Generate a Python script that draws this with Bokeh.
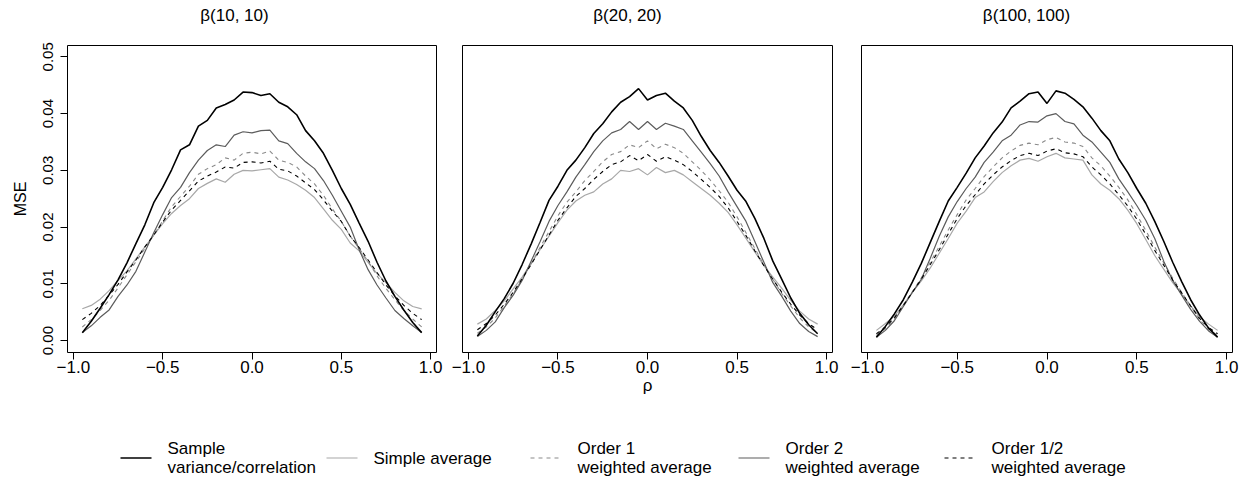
from bokeh.plotting import figure
from bokeh.layouts import row, column
from bokeh.models import Range1d, FixedTicker
from bokeh.embed import file_html
from bokeh.resources import INLINE
from bokeh.core.properties import value

# ---------------- data ----------------
rho = [-0.95, -0.90, -0.85, -0.80, -0.75, -0.70, -0.65, -0.60, -0.55, -0.50,
       -0.45, -0.40, -0.35, -0.30, -0.25, -0.20, -0.15, -0.10, -0.05, 0.00,
       0.05, 0.10, 0.15, 0.20, 0.25, 0.30, 0.35, 0.40, 0.45, 0.50,
       0.55, 0.60, 0.65, 0.70, 0.75, 0.80, 0.85, 0.90, 0.95]

panel_titles = ["β(10, 10)", "β(20, 20)", "β(100, 100)"]

# beta(10,10)
sample_10 = [0.0014, 0.0034, 0.0057, 0.0081, 0.0107, 0.0137, 0.0171, 0.0204, 0.0243, 0.0270,
             0.0301, 0.0336, 0.0345, 0.0378, 0.0388, 0.0410, 0.0416, 0.0424, 0.0438, 0.0437,
             0.0432, 0.0435, 0.0420, 0.0412, 0.0398, 0.0370, 0.0352, 0.0330, 0.0300, 0.0268,
             0.0240, 0.0207, 0.0175, 0.0138, 0.0105, 0.0078, 0.0054, 0.0032, 0.0014]
simple_10 = [0.0056, 0.0062, 0.0073, 0.0088, 0.0106, 0.0123, 0.0144, 0.0165, 0.0186, 0.0206,
             0.0224, 0.0238, 0.0250, 0.0268, 0.0277, 0.0285, 0.0279, 0.0293, 0.0300, 0.0299,
             0.0301, 0.0303, 0.0288, 0.0283, 0.0275, 0.0265, 0.0252, 0.0232, 0.0212, 0.0196,
             0.0172, 0.0158, 0.0138, 0.0118, 0.0102, 0.0085, 0.0070, 0.0060, 0.0056]
order1_10 = [0.0024, 0.0037, 0.0053, 0.0071, 0.0093, 0.0116, 0.0139, 0.0162, 0.0186, 0.0211,
             0.0236, 0.0254, 0.0272, 0.0293, 0.0303, 0.0310, 0.0322, 0.0318, 0.0330, 0.0332,
             0.0329, 0.0334, 0.0318, 0.0314, 0.0306, 0.0290, 0.0276, 0.0256, 0.0232, 0.0210,
             0.0184, 0.0162, 0.0140, 0.0114, 0.0092, 0.0072, 0.0053, 0.0038, 0.0024]
order2_10 = [0.0014, 0.0026, 0.0041, 0.0054, 0.0078, 0.0098, 0.0122, 0.0156, 0.0190, 0.0222,
             0.0252, 0.0270, 0.0296, 0.0318, 0.0335, 0.0345, 0.0342, 0.0362, 0.0368, 0.0366,
             0.0370, 0.0371, 0.0352, 0.0347, 0.0330, 0.0315, 0.0303, 0.0282, 0.0256, 0.0228,
             0.0200, 0.0160, 0.0125, 0.0098, 0.0075, 0.0053, 0.0039, 0.0026, 0.0014]
orderhalf_10 = [0.0037, 0.0048, 0.0062, 0.0080, 0.0099, 0.0121, 0.0142, 0.0165, 0.0186, 0.0209,
                0.0230, 0.0247, 0.0264, 0.0281, 0.0290, 0.0297, 0.0306, 0.0304, 0.0314, 0.0315,
                0.0313, 0.0316, 0.0302, 0.0299, 0.0290, 0.0278, 0.0266, 0.0248, 0.0228, 0.0210,
                0.0184, 0.0164, 0.0142, 0.0120, 0.0098, 0.0079, 0.0062, 0.0048, 0.0037]

# beta(20,20)
sample_20 = [0.0008, 0.0027, 0.0051, 0.0074, 0.0101, 0.0134, 0.0170, 0.0208, 0.0247, 0.0272,
             0.0300, 0.0318, 0.0340, 0.0365, 0.0382, 0.0403, 0.0420, 0.0430, 0.0444, 0.0424,
             0.0432, 0.0436, 0.0422, 0.0410, 0.0388, 0.0360, 0.0335, 0.0314, 0.0290, 0.0265,
             0.0245, 0.0215, 0.0180, 0.0140, 0.0108, 0.0075, 0.0048, 0.0028, 0.0012]
simple_20 = [0.0029, 0.0038, 0.0053, 0.0070, 0.0091, 0.0112, 0.0136, 0.0160, 0.0184, 0.0208,
             0.0230, 0.0246, 0.0256, 0.0262, 0.0276, 0.0285, 0.0300, 0.0298, 0.0303, 0.0292,
             0.0305, 0.0296, 0.0300, 0.0292, 0.0280, 0.0268, 0.0256, 0.0242, 0.0226, 0.0204,
             0.0180, 0.0156, 0.0132, 0.0112, 0.0092, 0.0071, 0.0052, 0.0038, 0.0029]
order1_20 = [0.0013, 0.0024, 0.0040, 0.0061, 0.0083, 0.0108, 0.0135, 0.0164, 0.0192, 0.0220,
             0.0244, 0.0262, 0.0282, 0.0298, 0.0315, 0.0328, 0.0333, 0.0345, 0.0340, 0.0352,
             0.0338, 0.0346, 0.0340, 0.0330, 0.0315, 0.0300, 0.0283, 0.0264, 0.0244, 0.0218,
             0.0190, 0.0162, 0.0134, 0.0108, 0.0083, 0.0061, 0.0040, 0.0024, 0.0013]
order2_20 = [0.0007, 0.0018, 0.0033, 0.0058, 0.0080, 0.0106, 0.0140, 0.0174, 0.0210, 0.0238,
             0.0262, 0.0288, 0.0310, 0.0333, 0.0352, 0.0366, 0.0372, 0.0386, 0.0372, 0.0386,
             0.0372, 0.0383, 0.0378, 0.0372, 0.0352, 0.0332, 0.0312, 0.0290, 0.0262, 0.0236,
             0.0210, 0.0174, 0.0138, 0.0102, 0.0078, 0.0052, 0.0030, 0.0016, 0.0007]
orderhalf_20 = [0.0019, 0.0030, 0.0045, 0.0064, 0.0085, 0.0109, 0.0134, 0.0160, 0.0186, 0.0212,
                0.0234, 0.0254, 0.0268, 0.0284, 0.0298, 0.0310, 0.0315, 0.0326, 0.0317, 0.0328,
                0.0316, 0.0324, 0.0318, 0.0310, 0.0298, 0.0284, 0.0270, 0.0254, 0.0234, 0.0210,
                0.0185, 0.0158, 0.0132, 0.0108, 0.0085, 0.0064, 0.0045, 0.0030, 0.0019]

# beta(100,100)
sample_100 = [0.0006, 0.0025, 0.0047, 0.0072, 0.0103, 0.0136, 0.0173, 0.0210, 0.0246, 0.0270,
              0.0295, 0.0322, 0.0343, 0.0366, 0.0385, 0.0410, 0.0422, 0.0435, 0.0438, 0.0418,
              0.0440, 0.0436, 0.0425, 0.0412, 0.0392, 0.0370, 0.0352, 0.0320, 0.0296, 0.0268,
              0.0242, 0.0210, 0.0175, 0.0138, 0.0104, 0.0072, 0.0045, 0.0022, 0.0006]
simple_100 = [0.0018, 0.0030, 0.0043, 0.0063, 0.0085, 0.0105, 0.0128, 0.0154, 0.0180, 0.0207,
              0.0228, 0.0252, 0.0262, 0.0280, 0.0296, 0.0308, 0.0318, 0.0321, 0.0316, 0.0324,
              0.0330, 0.0322, 0.0320, 0.0318, 0.0292, 0.0276, 0.0265, 0.0250, 0.0230, 0.0206,
              0.0178, 0.0150, 0.0126, 0.0102, 0.0082, 0.0061, 0.0042, 0.0029, 0.0018]
order1_100 = [0.0009, 0.0021, 0.0038, 0.0062, 0.0086, 0.0110, 0.0138, 0.0166, 0.0195, 0.0222,
              0.0248, 0.0268, 0.0289, 0.0306, 0.0322, 0.0334, 0.0344, 0.0348, 0.0345, 0.0354,
              0.0358, 0.0350, 0.0348, 0.0342, 0.0322, 0.0308, 0.0290, 0.0270, 0.0248, 0.0222,
              0.0194, 0.0165, 0.0137, 0.0110, 0.0085, 0.0061, 0.0037, 0.0020, 0.0009]
order2_100 = [0.0006, 0.0018, 0.0035, 0.0060, 0.0085, 0.0108, 0.0145, 0.0184, 0.0218, 0.0245,
              0.0268, 0.0288, 0.0314, 0.0332, 0.0352, 0.0362, 0.0380, 0.0386, 0.0385, 0.0396,
              0.0400, 0.0386, 0.0382, 0.0362, 0.0350, 0.0332, 0.0314, 0.0285, 0.0262, 0.0238,
              0.0212, 0.0180, 0.0140, 0.0106, 0.0080, 0.0055, 0.0034, 0.0017, 0.0006]
orderhalf_100 = [0.0012, 0.0024, 0.0040, 0.0062, 0.0085, 0.0108, 0.0134, 0.0160, 0.0188, 0.0215,
                 0.0238, 0.0257, 0.0276, 0.0292, 0.0306, 0.0317, 0.0326, 0.0330, 0.0326, 0.0334,
                 0.0338, 0.0331, 0.0329, 0.0324, 0.0306, 0.0292, 0.0276, 0.0257, 0.0237, 0.0214,
                 0.0187, 0.0159, 0.0133, 0.0107, 0.0084, 0.0061, 0.0039, 0.0023, 0.0012]

x_ticks = [-1.0, -0.5, 0.0, 0.5, 1.0]
x_tick_labels = ["\u22121.0", "\u22120.5", "0.0", "0.5", "1.0"]
y_ticks = [0.00, 0.01, 0.02, 0.03, 0.04, 0.05]
y_tick_labels = ["0.00", "0.01", "0.02", "0.03", "0.04", "0.05"]

legend_line1 = ["Sample", "Simple average", "Order 1", "Order 2", "Order 1/2"]
legend_line2 = ["variance/correlation", "", "weighted average", " weighted average", "weighted average"]

# ---------------- styles ----------------
FONT = "Liberation Sans"
STYLE = {
    "sample": dict(color="#000000", width=1.6, dash="solid"),
    "simple": dict(color="#a8a8a8", width=1.2, dash="solid"),
    "order1": dict(color="#8a8a8a", width=1.1, dash="4 4"),
    "order2": dict(color="#5c5c5c", width=1.2, dash="solid"),
    "orderhalf": dict(color="#000000", width=1.1, dash="4 4"),
}
legend_keys = ["sample", "simple", "order1", "order2", "orderhalf"]

panels_data = [
    dict(simple=simple_10, order1=order1_10, order2=order2_10, orderhalf=orderhalf_10, sample=sample_10),
    dict(simple=simple_20, order1=order1_20, order2=order2_20, orderhalf=orderhalf_20, sample=sample_20),
    dict(simple=simple_100, order1=order1_100, order2=order2_100, orderhalf=orderhalf_100, sample=sample_100),
]

# ---------------- titles strip ----------------
TITLE_H = 30
title_x = [234, 627, 1026]
tfig = figure(width=1248, height=TITLE_H, output_backend="svg", toolbar_location=None,
              x_range=Range1d(0, 1248), y_range=Range1d(TITLE_H, 0),
              min_border=0, outline_line_color=None)
tfig.axis.visible = False
tfig.xgrid.visible = False
tfig.ygrid.visible = False
tfig.text(x=title_x, y=[15, 15, 15], text=panel_titles, text_font=value(FONT),
          text_font_size="17px", text_align="center", text_baseline="middle", text_color="black")

# width, border_left, border_right
geom = [(449, 67, 13), (397, 13, 14), (402, 15, 16)]
PANEL_H = 370

figs = []
for i, data in enumerate(panels_data):
    w, bl, br = geom[i]
    p = figure(width=w, height=PANEL_H, output_backend="svg", toolbar_location=None,
               x_range=Range1d(-1.033, 1.033), y_range=Range1d(-0.0021, 0.0520),
               min_border_left=bl, min_border_right=br, min_border_top=15, min_border_bottom=48,
               background_fill_color="white", border_fill_color="white")
    p.outline_line_color = "black"
    p.outline_line_alpha = 1.0
    p.outline_line_width = 1
    p.xgrid.visible = False
    p.ygrid.visible = False

    xa = p.xaxis[0]
    xa.ticker = FixedTicker(ticks=x_ticks)
    xa.major_label_overrides = {t: l for t, l in zip(x_ticks, x_tick_labels)}
    xa.bounds = (-1.0, 1.0)
    xa.minor_tick_line_color = None
    xa.major_tick_in = 0
    xa.major_tick_out = 7
    xa.major_tick_line_color = "black"
    xa.major_label_standoff = 1
    xa.major_label_text_font = FONT
    xa.major_label_text_font_size = "17px"
    xa.major_label_text_color = "black"
    xa.axis_line_color = "black"
    if i == 1:
        xa.axis_label = "ρ"
        xa.axis_label_text_font = FONT
        xa.axis_label_text_font_style = "normal"
        xa.axis_label_text_font_size = "17px"
        xa.axis_label_text_color = "black"
        xa.axis_label_standoff = 0

    ya = p.yaxis[0]
    if i == 0:
        ya.ticker = FixedTicker(ticks=y_ticks)
        ya.major_label_overrides = {t: l for t, l in zip(y_ticks, y_tick_labels)}
        ya.bounds = (0.0, 0.05)
        ya.minor_tick_line_color = None
        ya.major_tick_in = 0
        ya.major_tick_out = 7
        ya.major_tick_line_color = "black"
        ya.axis_line_color = "black"
        ya.major_label_orientation = "vertical"
        ya.major_label_standoff = 7
        ya.major_label_text_font = FONT
        ya.major_label_text_font_size = "15px"
        ya.major_label_text_color = "black"
        ya.axis_label = "MSE"
        ya.axis_label_text_font = FONT
        ya.axis_label_text_font_style = "normal"
        ya.axis_label_text_font_size = "16px"
        ya.axis_label_text_color = "black"
        ya.axis_label_standoff = 12
    else:
        ya.visible = False

    for key in ["simple", "order1", "order2", "orderhalf", "sample"]:
        st = STYLE[key]
        p.line(rho, data[key], line_color=st["color"], line_width=st["width"], line_dash=st["dash"])
    figs.append(p)

# ---------------- legend ----------------
leg = figure(width=1248, height=82, output_backend="svg", toolbar_location=None,
             x_range=Range1d(0, 1248), y_range=Range1d(482, 400),
             min_border=0, outline_line_color=None)
leg.axis.visible = False
leg.xgrid.visible = False
leg.ygrid.visible = False

line_x0 = [120, 326, 530, 738, 944]
LINE_LEN = 31
TEXT_GAP = 16
for j, key in enumerate(legend_keys):
    st = STYLE[key]
    x0 = line_x0[j]
    leg.segment(x0=[x0], y0=[457.5], x1=[x0 + LINE_LEN], y1=[457.5],
                line_color=st["color"], line_width=st["width"] if key != "sample" else 1.3,
                line_dash=st["dash"])
    tx = x0 + LINE_LEN + TEXT_GAP
    if legend_line2[j]:
        leg.text(x=[tx], y=[448], text=[legend_line1[j]], text_font=value(FONT),
                 text_font_size="17px", text_baseline="middle", text_align="left", text_color="black")
        leg.text(x=[tx], y=[467], text=[legend_line2[j]], text_font=value(FONT),
                 text_font_size="17px", text_baseline="middle", text_align="left", text_color="black")
    else:
        leg.text(x=[tx], y=[458], text=[legend_line1[j]], text_font=value(FONT),
                 text_font_size="17px", text_baseline="middle", text_align="left", text_color="black")

layout = column(tfig, row(*figs, spacing=0), leg, spacing=0)

open("out.html", "w").write(file_html(layout, INLINE))
